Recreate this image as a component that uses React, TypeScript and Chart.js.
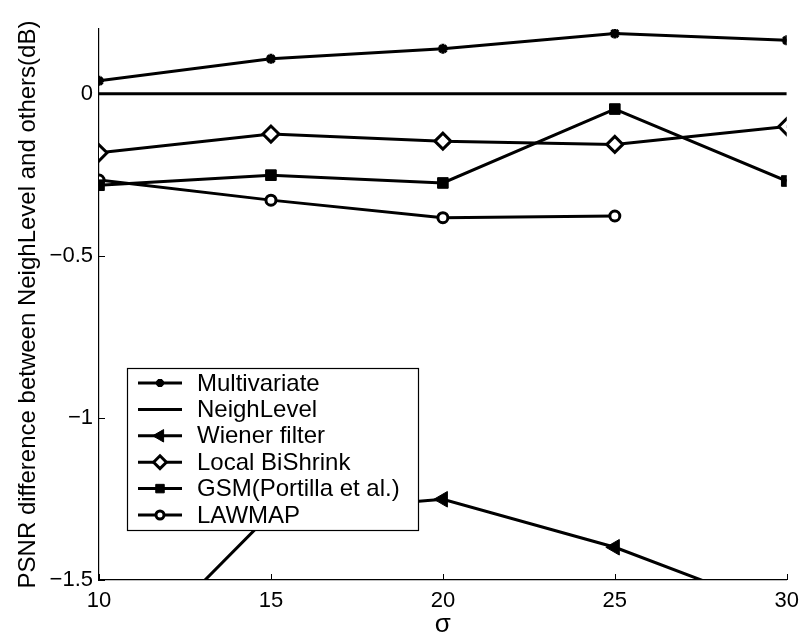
import React, { useEffect, useRef } from 'react';
import { Chart, registerables } from 'chart.js';

Chart.register(...registerables);

const sigma = [10, 15, 20, 25, 30];
const multivariate = [0.04, 0.108, 0.139, 0.186, 0.165];
const neighLevel = [0, 0, 0, 0, 0];
const wienerFilter = [-1.83, -1.295, -1.251, -1.399, -1.6];
const localBiShrink = [-0.182, -0.124, -0.146, -0.156, -0.101];
const gsmPortilla = [-0.282, -0.251, -0.275, -0.047, -0.269];
const lawmap = [-0.266, -0.328, -0.382, -0.377, null];
const yTickValues = [0, -0.5, -1, -1.5];
const xTickValues = [10, 15, 20, 25, 30];

const FONT = '"Liberation Sans", Arial, Helvetica, sans-serif';

type SeriesStyle = {
  label: string;
  data: (number | null)[];
  pointStyle: any;
  radius: number;
  rotation: number;
  fill: string;
  borderW: number;
};

const series: SeriesStyle[] = [
  { label: 'Multivariate', data: multivariate, pointStyle: 'star', radius: 5, rotation: 0, fill: '#000', borderW: 3 },
  { label: 'NeighLevel', data: neighLevel, pointStyle: false, radius: 0, rotation: 0, fill: '#000', borderW: 3 },
  { label: 'Wiener filter', data: wienerFilter, pointStyle: 'triangle', radius: 9, rotation: -90, fill: '#000', borderW: 1 },
  { label: 'Local BiShrink', data: localBiShrink, pointStyle: 'rectRot', radius: 8, rotation: 0, fill: '#fff', borderW: 3 },
  { label: 'GSM(Portilla et al.)', data: gsmPortilla, pointStyle: 'rect', radius: 7.5, rotation: 0, fill: '#000', borderW: 1 },
  { label: 'LAWMAP', data: lawmap, pointStyle: 'circle', radius: 5, rotation: 0, fill: '#fff', borderW: 3 },
];

function drawMarker(ctx: CanvasRenderingContext2D, s: SeriesStyle, x: number, y: number, r: number) {
  ctx.save();
  ctx.fillStyle = s.fill;
  ctx.strokeStyle = '#000';
  ctx.lineWidth = s.borderW;
  ctx.beginPath();
  if (s.pointStyle === 'star') {
    ctx.moveTo(x - r, y); ctx.lineTo(x + r, y);
    ctx.moveTo(x, y - r); ctx.lineTo(x, y + r);
    const d = r * 0.707;
    ctx.moveTo(x - d, y - d); ctx.lineTo(x + d, y + d);
    ctx.moveTo(x - d, y + d); ctx.lineTo(x + d, y - d);
    ctx.stroke();
  } else if (s.pointStyle === 'triangle') {
    ctx.moveTo(x - r, y);
    ctx.lineTo(x + r * 0.5, y - r * 0.866);
    ctx.lineTo(x + r * 0.5, y + r * 0.866);
    ctx.closePath();
    ctx.fill(); ctx.stroke();
  } else if (s.pointStyle === 'rectRot') {
    ctx.moveTo(x, y - r); ctx.lineTo(x + r, y); ctx.lineTo(x, y + r); ctx.lineTo(x - r, y);
    ctx.closePath();
    ctx.fill(); ctx.stroke();
  } else if (s.pointStyle === 'rect') {
    const h = r * 0.707;
    ctx.rect(x - h, y - h, 2 * h, 2 * h);
    ctx.fill(); ctx.stroke();
  } else if (s.pointStyle === 'circle') {
    ctx.arc(x, y, r, 0, Math.PI * 2);
    ctx.fill(); ctx.stroke();
  }
  ctx.restore();
}

const decorPlugin = {
  id: 'decor',
  afterDraw(chart: any) {
    const ctx: CanvasRenderingContext2D = chart.ctx;
    const xs = chart.scales.x;
    const ys = chart.scales.y;
    const area = chart.chartArea;
    ctx.save();
    ctx.strokeStyle = '#000';
    ctx.lineWidth = 1;
    // inward tick marks
    ctx.beginPath();
    yTickValues.forEach((v) => {
      const py = Math.round(ys.getPixelForValue(v)) + 0.5;
      ctx.moveTo(area.left, py);
      ctx.lineTo(area.left + 6, py);
    });
    xTickValues.forEach((v) => {
      const px = Math.round(xs.getPixelForValue(v)) + 0.5;
      ctx.moveTo(px, area.bottom);
      ctx.lineTo(px, area.bottom - 6);
    });
    ctx.stroke();

    // legend
    const bx = 127, by = 368, bw = 291, bh = 162;
    ctx.fillStyle = '#fff';
    ctx.fillRect(bx, by, bw, bh);
    ctx.strokeStyle = '#000';
    ctx.lineWidth = 1.2;
    ctx.strokeRect(bx + 0.5, by + 0.5, bw, bh);
    ctx.font = '24px ' + FONT;
    ctx.textBaseline = 'middle';
    ctx.textAlign = 'left';
    series.forEach((s, i) => {
      const cy = 383 + i * 26.4;
      ctx.strokeStyle = '#000';
      ctx.lineWidth = 3;
      ctx.beginPath();
      ctx.moveTo(138, cy);
      ctx.lineTo(182, cy);
      ctx.stroke();
      if (s.pointStyle) drawMarker(ctx, s, 160, cy, s.radius * 0.8);
      ctx.fillStyle = '#000';
      ctx.fillText(s.label, 197, cy + 1);
    });
    ctx.restore();
  },
};

export default function App() {
  const ref = useRef<HTMLCanvasElement | null>(null);
  useEffect(() => {
    if (!ref.current) return;
    const chart = new Chart(ref.current, {
      type: 'line',
      data: {
        datasets: series.map((s) => ({
          label: s.label,
          data: sigma.map((x, i) => ({ x, y: s.data[i] as any })),
          borderColor: '#000',
          borderWidth: 3,
          backgroundColor: s.fill,
          pointStyle: s.pointStyle,
          pointRadius: s.radius,
          pointRotation: s.rotation,
          pointBorderWidth: s.borderW,
          pointBorderColor: '#000',
          pointBackgroundColor: s.fill,
          tension: 0,
          spanGaps: false,
        })),
      },
      options: {
        animation: false,
        responsive: false,
        maintainAspectRatio: false,
        layout: { padding: { top: 29, right: 17, left: 0, bottom: 0 } },
        plugins: { legend: { display: false }, tooltip: { enabled: false } },
        scales: {
          x: {
            type: 'linear',
            min: 10,
            max: 30,
            ticks: { stepSize: 5, color: '#000', font: { family: FONT, size: 22 }, padding: 8 },
            grid: { display: false, drawTicks: false },
            border: { display: true, color: '#000', width: 1.2 },
            title: { display: true, text: 'σ', color: '#000', font: { family: FONT, size: 26 }, padding: 0 },
            afterFit: (s: any) => { s.height = 60; },
          },
          y: {
            type: 'linear',
            min: -1.5,
            max: 0.2,
            ticks: {
              stepSize: 0.5,
              includeBounds: false,
              color: '#000',
              font: { family: FONT, size: 22 },
              padding: 6,
              callback: (v: any) => (Number(v) < 0 ? '\u2212' + String(Math.abs(Number(v))) : String(v)),
            },
            grid: { display: false, drawTicks: false },
            border: { display: true, color: '#000', width: 1.2 },
            title: {
              display: true,
              text: 'PSNR difference between NeighLevel and others(dB)',
              color: '#000',
              font: { family: FONT, size: 24 },
              padding: { top: 14, bottom: 0 },
            },
            afterFit: (s: any) => { s.width = 99; },
          },
        },
      },
      plugins: [decorPlugin],
    });
    return () => chart.destroy();
  }, []);
  return (
    <div style={{ position: 'absolute', left: 0, top: 0, width: 807, height: 640, background: '#fff' }}>
      <canvas ref={ref} width={807} height={640} style={{ display: 'block' }} />
    </div>
  );
}
